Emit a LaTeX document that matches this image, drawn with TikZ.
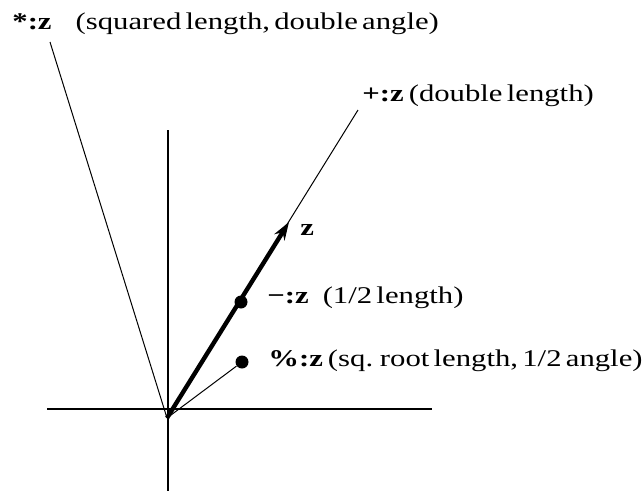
\documentclass[tikz,border=0pt]{standalone}
\usepackage{fontspec}
\setmainfont{Liberation Serif}[FakeStretch=1.28,WordSpace=0.55]
\usetikzlibrary{positioning,arrows.meta}

\begin{document}
\begin{tikzpicture}[
    x=0.5pt,y=-0.5pt,
    font=\fontsize{12}{14}\selectfont,
    axis/.style={line width=0.8pt},
    ray/.style={line width=0.5pt},
    vec/.style={->,line width=2.2pt},
    dot/.style={circle,fill,inner sep=0pt,minimum size=6.5pt},
    lbl/.style={anchor=base west,inner sep=0pt},
    >={Stealth[length=9pt,width=6pt]}
]
\useasboundingbox (0,0) rectangle (644,493);

% axes
\coordinate (xl) at (47,409);
\coordinate (xr) at (432,409);
\coordinate (yt) at (168,130);
\coordinate (yb) at (168,491);
\draw[axis] (xl) -- (xr);
\draw[axis] (yt) -- (yb);

% origin and ray ends
\coordinate (O) at (167,418);
\coordinate (sq) at (50,42);
\coordinate (dbl) at (358,110);
\coordinate (tip) at (289,222);
\node[dot] (half) at (241,302) {};
\node[dot] (root) at (242,362) {};

% rays
\draw[ray] (O) -- (sq);
\draw[ray] (O) -- (dbl);
\draw[ray] (O) -- (root);
\draw[vec] (O) -- (tip);

% labels
\node[lbl] (lsq) at (12,29) {\textbf{*:z}\hspace{12pt}(squared length, double angle)};
\node[lbl] (ldbl) at (362,101) {\textbf{+:z}\hspace{2.5pt}(double length)};
\node[lbl] (lz) at (300,235) {\textbf{z}};
\node[lbl] (lhalf) at (267,303) {\textbf{−:z}\hspace{7pt}(1/2 length)};
\node[lbl] (lroot) at (268,366) {\textbf{\%:z}\hspace{2.5pt}(sq. root length, 1/2 angle)};

\end{tikzpicture}
\end{document}
